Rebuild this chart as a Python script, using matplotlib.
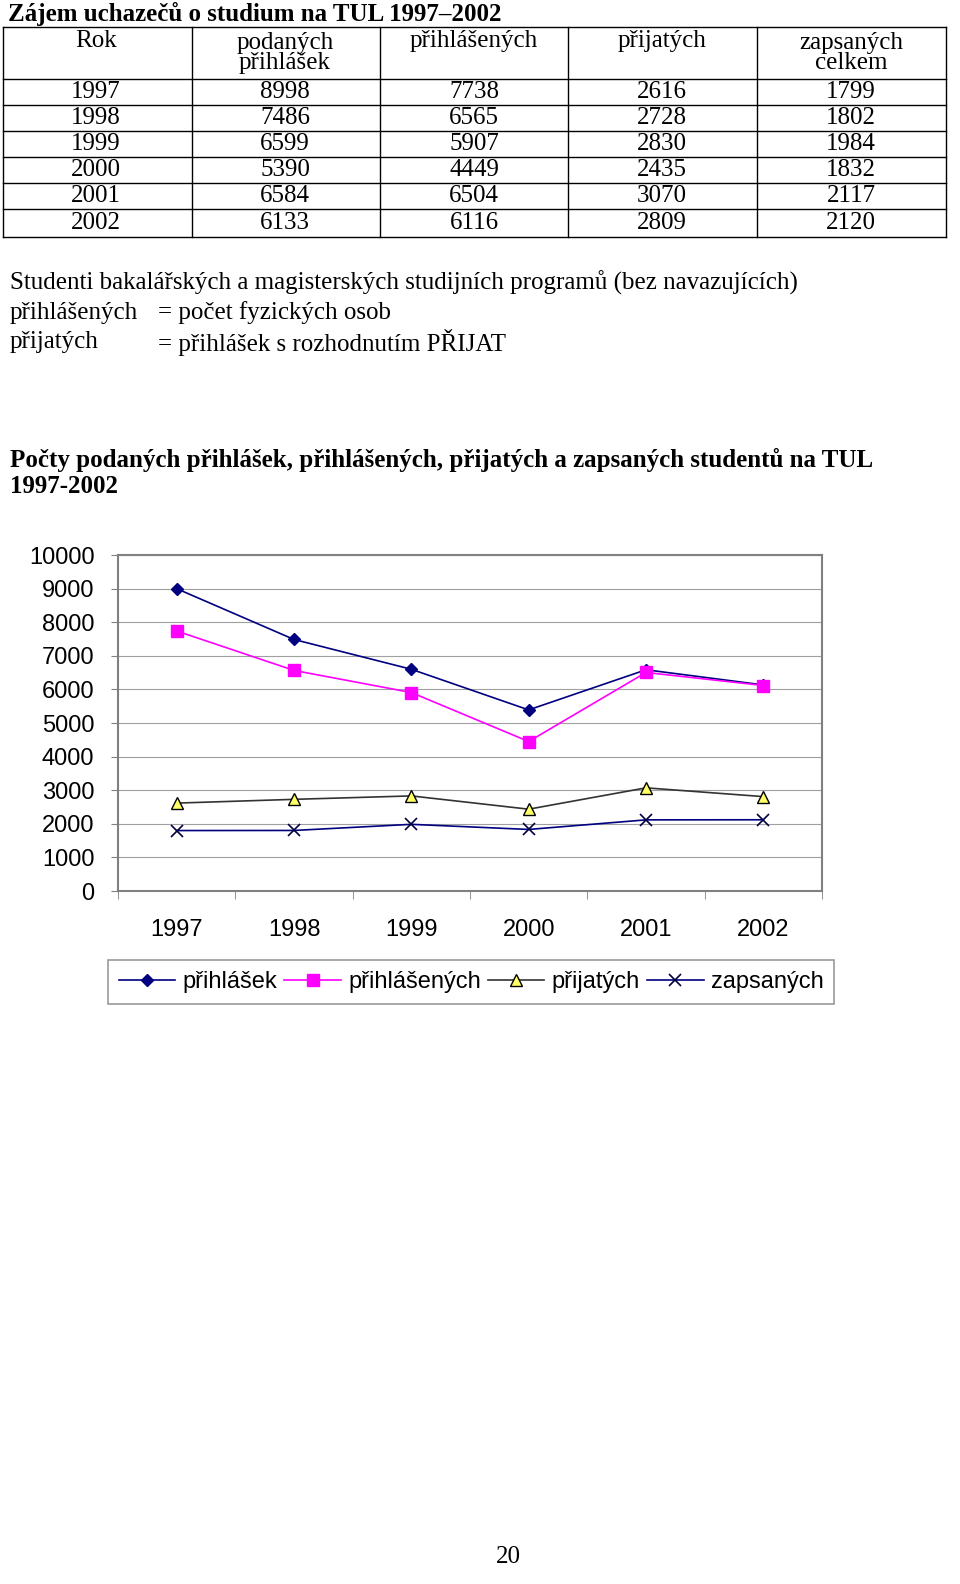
import numpy as np
import matplotlib
matplotlib.use("Agg")
from matplotlib import pyplot as plt
from matplotlib.lines import Line2D

years = ["1997", "1998", "1999", "2000", "2001", "2002"]
podanych = [8998, 7486, 6599, 5390, 6584, 6133]
prihlasenych = [7738, 6565, 5907, 4449, 6504, 6116]
prijatych = [2616, 2728, 2830, 2435, 3070, 2809]
zapsanych = [1799, 1802, 1984, 1832, 2117, 2120]

W, H = 960, 1584
fig = plt.figure(figsize=(W / 100, H / 100), dpi=100)

def px(x, y):
    return x / W, 1 - y / H

serif = "Liberation Serif"
sans = "Liberation Sans"
FS = 18
SS = 17

# title
fig.text(*px(8, 14), "Zájem uchazečů o studium na TUL 1997–2002", family=serif,
         weight="bold", fontsize=FS, va="center")

# table
cols = [3, 192, 380, 568, 757, 946]
rows = [27, 79, 105, 131, 157, 183, 209, 237]
for y in rows:
    fig.add_artist(Line2D([px(3, 0)[0], px(946, 0)[0]], [px(0, y)[1]] * 2, color="black", lw=1))
for x in cols:
    fig.add_artist(Line2D([px(x, 0)[0]] * 2, [px(0, 27)[1], px(0, 237)[1]], color="black", lw=1))

centers = [96, 285, 474, 662, 851]
fig.text(*px(96, 41), "Rok", family=serif, fontsize=FS, ha="center", va="center")
fig.text(*px(285, 53), "podaných\npřihlášek", family=serif, fontsize=FS, ha="center",
         va="center", linespacing=0.9)
fig.text(*px(474, 41), "přihlášených", family=serif, fontsize=FS, ha="center", va="center")
fig.text(*px(662, 41), "přijatých", family=serif, fontsize=FS, ha="center", va="center")
fig.text(*px(851, 53), "zapsaných\ncelkem", family=serif, fontsize=FS, ha="center",
         va="center", linespacing=0.9)
for i, yr in enumerate(years):
    yc = (rows[i + 1] + rows[i + 2]) / 2
    vals = [yr, podanych[i], prihlasenych[i], prijatych[i], zapsanych[i]]
    for c, v in zip(centers, vals):
        fig.text(*px(c, yc), str(v), family=serif, fontsize=FS, ha="center", va="center")

# notes
fig.text(*px(10, 283), "Studenti bakalářských a magisterských studijních programů (bez navazujících)",
         family=serif, fontsize=FS, va="center")
fig.text(*px(10, 313), "přihlášených", family=serif, fontsize=FS, va="center")
fig.text(*px(158, 313), "= počet fyzických osob", family=serif, fontsize=FS, va="center")
fig.text(*px(10, 342), "přijatých", family=serif, fontsize=FS, va="center")
fig.text(*px(158, 342), "= přihlášek s rozhodnutím PŘIJAT", family=serif, fontsize=FS, va="center")

fig.text(*px(10, 473), "Počty podaných přihlášek, přihlášených, přijatých a zapsaných studentů na TUL\n1997-2002",
         family=serif, weight="bold", fontsize=FS, va="center", linespacing=1.15)

# chart
ax = fig.add_axes([118 / W, 1 - 891 / H, 704 / W, 336 / H])
x = np.arange(len(years))
ax.plot(x, podanych, color="#000080", marker="D", ms=6, lw=1.2, label="přihlášek")
ax.plot(x, prihlasenych, color="#FF00FF", marker="s", ms=8, lw=1.2, label="přihlášených")
ax.plot(x, prijatych, color="#333333", marker="^", ms=8, mfc="#FFFF66", mec="black",
        lw=1.2, label="přijatých")
ax.plot(x, zapsanych, color="#000080", marker="x", ms=8, mec="#000040", mew=1.2,
        lw=1.2, label="zapsaných")
ax.set_xlim(-0.5, 5.5)
ax.set_ylim(0, 10000)
ax.set_yticks(range(0, 10001, 1000))
ax.set_yticklabels([str(v) for v in range(0, 10001, 1000)], family=sans, fontsize=SS)
ax.set_xticks(x)
ax.set_xticklabels(years, family=sans, fontsize=SS)
ax.tick_params(axis="x", length=0, pad=20)
ax.set_xticks(np.arange(-0.5, 6, 1), minor=True)
ax.tick_params(axis="x", which="minor", length=6, color="#808080")
ax.tick_params(axis="y", length=5, color="#808080", pad=12)
ax.grid(axis="y", color="#A0A0A0", lw=0.8)
for s in ax.spines.values():
    s.set_color("#808080")
    s.set_linewidth(1.5)
ax.set_axisbelow(True)

leg = fig.legend(loc="center", bbox_to_anchor=((135 + 807) / 2 / W, 1 - 982 / H), ncol=4,
                 prop={"family": sans, "size": SS}, frameon=True, fancybox=False,
                 handlelength=2.4, columnspacing=0.3, handletextpad=0.3,
                 borderpad=0.45)
leg.get_frame().set_edgecolor("#808080")
leg.get_frame().set_linewidth(1.2)

fig.text(*px(508, 1557), "20", family=serif, fontsize=FS, ha="center", va="center")

fig.savefig("out.png", dpi=100)
